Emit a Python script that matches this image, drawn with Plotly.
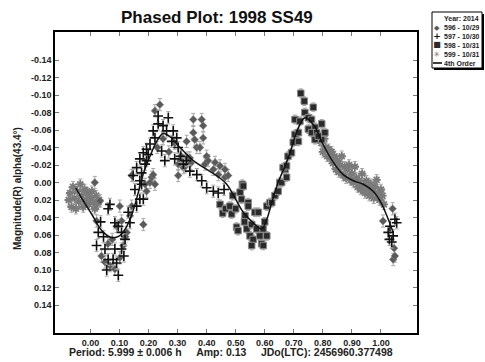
import plotly.graph_objects as go

# ---------------- data (phase, magnitude) ----------------
PH_596 = [0.015, 0.033, 0.021, 0.038, 0.050, 0.067, 0.084, 0.101, 0.113, 0.125,
          0.136, 0.142, 0.101, 0.107, 0.090, 0.182, 0.188, 0.205, 0.211, 0.142,
          0.193, 0.216, 0.222, 0.222, 0.239, 0.230, 0.250, 0.270, 0.290, 0.302,
          0.302, 0.313, 0.320, 0.331, 0.342, 0.354, 0.354, 0.359, 0.366, 0.377,
          0.383, 0.388, 0.388, 0.400, 0.394, 0.405, 0.423, 0.429, 0.440, 0.446,
          0.463, 0.463, 0.474, 0.310, 0.325, 0.335, 0.345, 1.007, 1.040, 1.042,
          1.045, 1.048, 0.060, 0.075, 0.120]
MAG_596 = [0.000, 0.021, 0.044, 0.084, 0.091, 0.095, 0.099, 0.086, 0.072, 0.057,
           0.038, 0.027, 0.027, 0.044, 0.050, 0.048, 0.002, 0.000, -0.006, -0.008,
           0.010, -0.009, 0.002, -0.082, -0.089, -0.040, -0.050, -0.035, -0.045, -0.021,
           -0.008, -0.030, -0.017, -0.047, -0.028, -0.072, -0.057, -0.049, -0.040, -0.040,
           -0.072, -0.065, -0.051, -0.030, -0.021, -0.025, -0.015, -0.023, -0.009, -0.019,
           -0.015, -0.006, -0.008, -0.025, -0.018, -0.028, -0.022, 0.044, 0.030, 0.088,
           0.075, 0.084, 0.070, 0.065, 0.062]

PH_597 = [0.067, 0.061, 0.027, 0.021, 0.050, 0.056, 0.096, 0.078, 0.061, 0.084,
          0.107, 0.119, 0.107, 0.096, 0.084, 0.136, 0.130, 0.159, 0.170, 0.182,
          0.153, 0.170, 0.147, 0.176, 0.159, 0.188, 0.170, 0.199, 0.182, 0.193,
          0.176, 0.205, 0.216, 0.233, 0.233, 0.250, 0.268, 0.262, 0.285, 0.297,
          0.280, 0.302, 0.290, 0.320, 0.342, 0.366, 0.383, 0.400, 0.423, 0.222,
          0.193, 0.245, 0.256, 0.045, 0.035, 0.090, 0.115, 0.310, 0.330, 0.440,
          0.460, 1.031, 1.042, 1.025, 1.054, 1.037, 1.048, 1.029]
MAG_597 = [0.025, 0.030, 0.057, 0.072, 0.076, 0.100, 0.106, 0.088, 0.088, 0.076,
           0.076, 0.065, 0.057, 0.050, 0.046, 0.046, 0.034, 0.027, 0.019, 0.019,
           0.008, -0.002, -0.008, -0.011, -0.017, -0.021, -0.027, -0.032, -0.034, -0.025,
           0.002, -0.044, -0.059, -0.076, -0.067, -0.065, -0.074, -0.059, -0.059, -0.051,
           -0.047, -0.040, -0.027, -0.021, -0.013, -0.009, -0.002, 0.006, 0.010, -0.051,
           -0.038, -0.036, -0.025, 0.062, 0.045, 0.092, 0.084, -0.030, -0.025, 0.012,
           0.008, 0.050, 0.061, 0.057, 0.046, 0.068, 0.042, 0.065]

PH_598 = [0.446, 0.455, 0.465, 0.490, 0.480, 0.486, 0.500, 0.515, 0.520, 0.523,
          0.526, 0.543, 0.532, 0.543, 0.503, 0.508, 0.538, 0.555, 0.566, 0.578,
          0.549, 0.560, 0.555, 0.583, 0.589, 0.595, 0.607, 0.572, 0.594, 0.607,
          0.618, 0.624, 0.635, 0.646, 0.652, 0.658, 0.670, 0.675, 0.663, 0.675,
          0.680, 0.692, 0.698, 0.716, 0.704, 0.716, 0.704, 0.721, 0.738, 0.724,
          0.736, 0.750, 0.767, 0.761, 0.750, 0.773, 0.761, 0.779, 0.796, 0.807,
          0.773, 0.796, 0.784, 0.600, 0.530]
MAG_598 = [0.025, 0.035, 0.030, 0.015, 0.027, 0.036, 0.030, 0.011, 0.019, 0.002,
           0.004, 0.023, 0.038, 0.027, 0.051, 0.055, 0.053, 0.048, 0.034, 0.034,
           0.061, 0.065, 0.072, 0.061, 0.070, 0.072, 0.061, 0.053, 0.053, 0.027,
           0.023, 0.023, 0.015, 0.010, 0.000, 0.000, -0.015, -0.006, -0.017, -0.019,
           -0.030, -0.034, -0.046, -0.047, -0.055, -0.057, -0.072, -0.070, -0.080, -0.102,
           -0.093, -0.074, -0.086, -0.072, -0.061, -0.063, -0.057, -0.057, -0.067, -0.057,
           -0.049, -0.049, -0.053, 0.045, 0.045]

PH_599 = [0.795, 0.800, 0.805, 0.810, 0.815, 0.820, 0.825, 0.830, 0.835, 0.840,
          0.845, 0.850, 0.855, 0.860, 0.865, 0.870, 0.875, 0.880, 0.885, 0.890,
          0.895, 0.900, 0.905, 0.910, 0.915, 0.920, 0.925, 0.930, 0.935, 0.940,
          0.945, 0.950, 0.955, 0.960, 0.965, 0.970, 0.975, 0.980, 0.985, 0.990,
          0.995, 1.000, 1.005, 1.010,
          -0.075, -0.070, -0.065, -0.060, -0.055, -0.050, -0.045, -0.040, -0.035, -0.030,
          -0.025, -0.020, -0.015, -0.010, -0.005, 0.000, 0.005, 0.010, 0.015, 0.020,
          0.025, 0.030]
MAG_599 = [-0.045, -0.035, -0.050, -0.040, -0.030, -0.038, -0.028, -0.035, -0.022, -0.030,
           -0.015, -0.025, -0.012, -0.020, -0.030, -0.008, -0.018, -0.005, -0.015, -0.020,
           -0.003, -0.010, 0.000, -0.018, -0.005, 0.005, -0.002, 0.008, -0.010, 0.003,
           0.012, -0.002, 0.008, 0.015, 0.002, 0.010, 0.018, 0.005, -0.003, 0.012,
           0.020, 0.008, 0.015, 0.025,
           0.020, 0.012, 0.028, 0.005, 0.018, 0.030, 0.010, 0.022, 0.002, 0.015,
           0.028, 0.008, 0.020, 0.012, 0.025, 0.018, 0.010, 0.022, 0.030, 0.015,
           0.025, 0.020]

ERR_596 = 0.007
ERR_597 = 0.007
ERR_598 = 0.005
ERR_599 = 0.006

FIT_PH = [-0.051, -0.030, 0.004, 0.039, 0.073, 0.100, 0.125, 0.147, 0.165, 0.182,
          0.205, 0.228, 0.250, 0.275, 0.297, 0.320, 0.354, 0.400, 0.434, 0.469,
          0.490, 0.526, 0.560, 0.589, 0.607, 0.624, 0.646, 0.670, 0.687, 0.710,
          0.738, 0.770, 0.800, 0.836, 0.870, 0.905, 0.939, 0.973, 1.000, 1.025, 1.042]
FIT_MAG = [0.006, 0.018, 0.036, 0.055, 0.063, 0.061, 0.050, 0.032, 0.011, -0.010,
           -0.030, -0.047, -0.056, -0.052, -0.044, -0.036, -0.025, -0.015, -0.008, 0.002,
           0.013, 0.034, 0.046, 0.053, 0.042, 0.023, 0.000, -0.019, -0.034, -0.058,
           -0.074, -0.065, -0.044, -0.023, -0.009, -0.002, 0.002, 0.010, 0.023, 0.042, 0.057]

X_TICKS = [0.0, 0.1, 0.2, 0.3, 0.4, 0.5, 0.6, 0.7, 0.8, 0.9, 1.0]
Y_TICKS = [-0.14, -0.12, -0.10, -0.08, -0.06, -0.04, -0.02, 0.0, 0.02, 0.04,
           0.06, 0.08, 0.10, 0.12, 0.14]

TITLE = "Phased Plot: 1998 SS49"
Y_TITLE = "Magnitude(R) alpha(43.4°)"
FOOTER = "Period: 5.999 ± 0.006 h&nbsp;&nbsp;&nbsp;&nbsp;&nbsp;Amp: 0.13&nbsp;&nbsp;&nbsp;&nbsp;&nbsp;JDo(LTC): 2456960.377498"
LEGEND_HEAD = "Year: 2014"
LEGEND_LABELS = ["596 - 10/29", "597 - 10/30", "598 - 10/31", "599 - 10/31", "4th Order"]

FONT = "Liberation Sans, Arial, sans-serif"
ERRC = "#a8a8a8"

fig = go.Figure()

def err(v):
    return dict(type="constant", value=v, color=ERRC, thickness=1, width=2)

fig.add_trace(go.Scatter(x=PH_599, y=MAG_599, mode="markers",
                         marker=dict(symbol="asterisk", size=7, color="#7a7a7a",
                                     line=dict(color="#7a7a7a", width=1.8)),
                         error_y=err(ERR_599)))
fig.add_trace(go.Scatter(x=PH_596, y=MAG_596, mode="markers",
                         marker=dict(symbol="diamond", size=6, color="#5a5a5a",
                                     line=dict(color="#8a8a8a", width=0.5)),
                         error_y=err(ERR_596)))
fig.add_trace(go.Scatter(x=PH_598, y=MAG_598, mode="markers",
                         marker=dict(symbol="square", size=6.5, color="#2a2a2a",
                                     line=dict(color="#8a8a8a", width=1)),
                         error_y=err(ERR_598)))
fig.add_trace(go.Scatter(x=PH_597, y=MAG_597, mode="markers",
                         marker=dict(symbol="cross-thin", size=7, color="#111111",
                                     line=dict(color="#111111", width=1.6)),
                         error_y=err(ERR_597)))
fig.add_trace(go.Scatter(x=FIT_PH, y=FIT_MAG, mode="lines",
                         line=dict(color="#111111", width=1.5, shape="spline", smoothing=1.0)))

axis_common = dict(showline=True, linecolor="black", linewidth=1.5, mirror="ticks",
                   ticks="inside", ticklen=4, tickcolor="#777777", showgrid=False,
                   zeroline=False,
                   tickfont=dict(family=FONT, size=9, color="#222222"))

fig.update_xaxes(range=[-0.122, 1.124], tickvals=X_TICKS,
                 ticktext=[f"<b>{v:.2f}</b>" for v in X_TICKS], **axis_common)
fig.update_yaxes(range=[0.172, -0.172], tickvals=Y_TICKS,
                 ticktext=[f"<b>{v:.2f}</b>" for v in Y_TICKS], **axis_common)

W, H = 485, 362
L, R, T, B = 55, 68, 32, 29
pw, ph = W - L - R, H - T - B

def px(xp):
    return (xp - L) / pw

def py(yp):
    return (H - B - yp) / ph

ann = []
ann.append(dict(text=f"<b>{TITLE}</b>", x=px(217), y=py(17), xref="paper", yref="paper",
                showarrow=False, font=dict(family=FONT, size=17, color="#111111"),
                xanchor="center", yanchor="middle"))
ann.append(dict(text=f"<b>{Y_TITLE}</b>", x=px(17), y=py(189), xref="paper", yref="paper",
                showarrow=False, textangle=-90, font=dict(family=FONT, size=10, color="#222222"),
                xanchor="center", yanchor="middle"))
ann.append(dict(text=f"<b>{FOOTER}</b>", x=px(231), y=py(352), xref="paper", yref="paper",
                showarrow=False, font=dict(family=FONT, size=10.5, color="#222222"),
                xanchor="center", yanchor="middle"))

# legend box
LX0, LX1, LY0, LY1 = 432, 482, 12, 68
shapes = [
    dict(type="rect", xref="paper", yref="paper", x0=px(LX0 + 2), x1=px(LX1 + 2),
         y0=py(LY1 + 2), y1=py(LY0 + 2), fillcolor="black", line=dict(width=0)),
    dict(type="rect", xref="paper", yref="paper", x0=px(LX0), x1=px(LX1),
         y0=py(LY1), y1=py(LY0), fillcolor="white", line=dict(color="black", width=1)),
]
ann.append(dict(text=f"<b>{LEGEND_HEAD}</b>", x=px(LX1 - 2), y=py(18), xref="paper",
                yref="paper", showarrow=False, xanchor="right", yanchor="middle",
                borderpad=0, height=8, font=dict(family=FONT, size=7, color="#222222")))
syms = ["◆", "+", "■", "✳"]
sym_sizes = [7, 9, 8, 8]
sym_colors = ["#5a5a5a", "#111111", "#2a2a2a", "#707070"]
for i, lab in enumerate(LEGEND_LABELS):
    yy = 27 + i * 9
    if i < 4:
        ann.append(dict(text=f"<b>{syms[i]}</b>", x=px(437), y=py(yy), xref="paper",
                        yref="paper", showarrow=False, xanchor="center", yanchor="middle",
                        borderpad=0, height=7, width=8,
                        font=dict(family="DejaVu Sans", size=sym_sizes[i],
                                  color=sym_colors[i])))
    else:
        shapes.append(dict(type="line", xref="paper", yref="paper", x0=px(433), x1=px(442),
                           y0=py(yy), y1=py(yy), line=dict(color="black", width=1.5)))
    ann.append(dict(text=f"<b>{lab}</b>", x=px(443), y=py(yy), xref="paper",
                    yref="paper", showarrow=False, xanchor="left", yanchor="middle",
                    borderpad=0, height=8, font=dict(family=FONT, size=7, color="#222222")))

fig.update_layout(width=W, height=H, margin=dict(l=L, r=R, t=T, b=B),
                  paper_bgcolor="white", plot_bgcolor="white", showlegend=False,
                  annotations=ann, shapes=shapes)

fig.write_html("out.html")
